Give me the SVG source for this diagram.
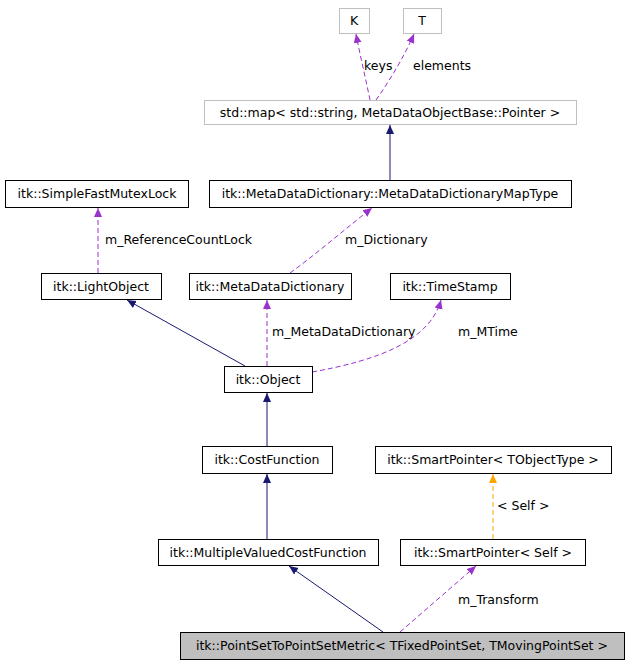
<svg xmlns="http://www.w3.org/2000/svg" width="629" height="667" viewBox="0 0 629 667">
<defs>
<style>
text{font-family:"DejaVu Sans",sans-serif;font-size:12.5px;fill:#000}
.n rect{fill:#fff;stroke:#000;stroke-width:1}
.g rect{stroke:#bfbfbf}
.s{fill:none;stroke:#191970;stroke-width:1}
.d{fill:none;stroke:#9a32cd;stroke-width:1;stroke-dasharray:5,3}
.o{fill:none;stroke:#ffa500;stroke-width:1;stroke-dasharray:5,3}
</style>
<marker id="ms" markerWidth="10" markerHeight="10" refX="9" refY="5" orient="auto" markerUnits="userSpaceOnUse"><path d="M0,1L9,5L0,9z" fill="#191970"/></marker>
<marker id="md" markerWidth="10" markerHeight="10" refX="9" refY="5" orient="auto" markerUnits="userSpaceOnUse"><path d="M0,1L9,5L0,9z" fill="#9a32cd"/></marker>
<marker id="mo" markerWidth="10" markerHeight="10" refX="9" refY="5" orient="auto" markerUnits="userSpaceOnUse"><path d="M0,1L9,5L0,9z" fill="#ffa500"/></marker>
</defs>
<g id="edges">
<path class="d" d="M370,100C366,80 360,55 356,34" marker-end="url(#md)"/><text x="364" y="70">keys</text>
<path class="d" d="M376,100C390,80 405,55 414,34" marker-end="url(#md)"/><text x="413" y="70">elements</text>
<path class="s" d="M390,180V125" marker-end="url(#ms)"/>
<path class="d" d="M290,273C315,255 350,225 372,208" marker-end="url(#md)"/><text x="345" y="244">m_Dictionary</text>
<path class="d" d="M98,273V208" marker-end="url(#md)"/><text x="105" y="244">m_ReferenceCountLock</text>
<path class="s" d="M245,366L127,300" marker-end="url(#ms)"/>
<path class="d" d="M267,366V300" marker-end="url(#md)"/><text x="272" y="336">m_MetaDataDictionary</text>
<path class="d" d="M312,372C380,360 430,340 441,300" marker-end="url(#md)"/><text x="458" y="336">m_MTime</text>
<path class="s" d="M267,446V393" marker-end="url(#ms)"/>
<path class="s" d="M267,539V474" marker-end="url(#ms)"/>
<path class="o" d="M493,539V474" marker-end="url(#mo)"/><text x="497" y="510">&lt; Self &gt;</text>
<path class="s" d="M383,632L289,566" marker-end="url(#ms)"/>
<path class="d" d="M400,632L476,566" marker-end="url(#md)"/><text x="458" y="604">m_Transform</text>
</g>
<g id="K" class="n g"><rect x="339.5" y="8.5" width="30" height="25"/><text x="354" y="25" text-anchor="middle">K</text></g>
<g id="T" class="n g"><rect x="403.5" y="8.5" width="38" height="25"/><text x="422" y="25" text-anchor="middle">T</text></g>
<g id="map" class="n g"><rect x="204.5" y="100.5" width="372" height="24"/><text x="390" y="117" text-anchor="middle">std::map&lt; std::string, MetaDataObjectBase::Pointer &gt;</text></g>
<g id="maptype" class="n"><rect x="209.5" y="180.5" width="362" height="27"/><text x="390" y="198" text-anchor="middle">itk::MetaDataDictionary::MetaDataDictionaryMapType</text></g>
<g id="mutex" class="n"><rect x="5.5" y="180.5" width="183" height="27"/><text x="97" y="198" text-anchor="middle">itk::SimpleFastMutexLock</text></g>
<g id="lightobject" class="n"><rect x="41.5" y="273.5" width="120" height="26"/><text x="101" y="291" text-anchor="middle">itk::LightObject</text></g>
<g id="mdd" class="n"><rect x="189.5" y="273.5" width="162" height="26"/><text x="270" y="291" text-anchor="middle">itk::MetaDataDictionary</text></g>
<g id="timestamp" class="n"><rect x="390.5" y="273.5" width="120" height="26"/><text x="450" y="291" text-anchor="middle">itk::TimeStamp</text></g>
<g id="object" class="n"><rect x="224.5" y="366.5" width="88" height="26"/><text x="268" y="384" text-anchor="middle">itk::Object</text></g>
<g id="costfunction" class="n"><rect x="202.5" y="446.5" width="130" height="27"/><text x="267" y="464" text-anchor="middle">itk::CostFunction</text></g>
<g id="spobj" class="n"><rect x="375.5" y="446.5" width="236" height="27"/><text x="493" y="464" text-anchor="middle">itk::SmartPointer&lt; TObjectType &gt;</text></g>
<g id="mvcf" class="n"><rect x="158.5" y="539.5" width="220" height="26"/><text x="268" y="557" text-anchor="middle">itk::MultipleValuedCostFunction</text></g>
<g id="spself" class="n"><rect x="400.5" y="539.5" width="185" height="26"/><text x="493" y="557" text-anchor="middle">itk::SmartPointer&lt; Self &gt;</text></g>
<g id="metric" class="n"><rect x="180.5" y="632.5" width="444" height="27" style="fill:#bfbfbf"/><text x="402" y="650" text-anchor="middle">itk::PointSetToPointSetMetric&lt; TFixedPointSet, TMovingPointSet &gt;</text></g>
</svg>
